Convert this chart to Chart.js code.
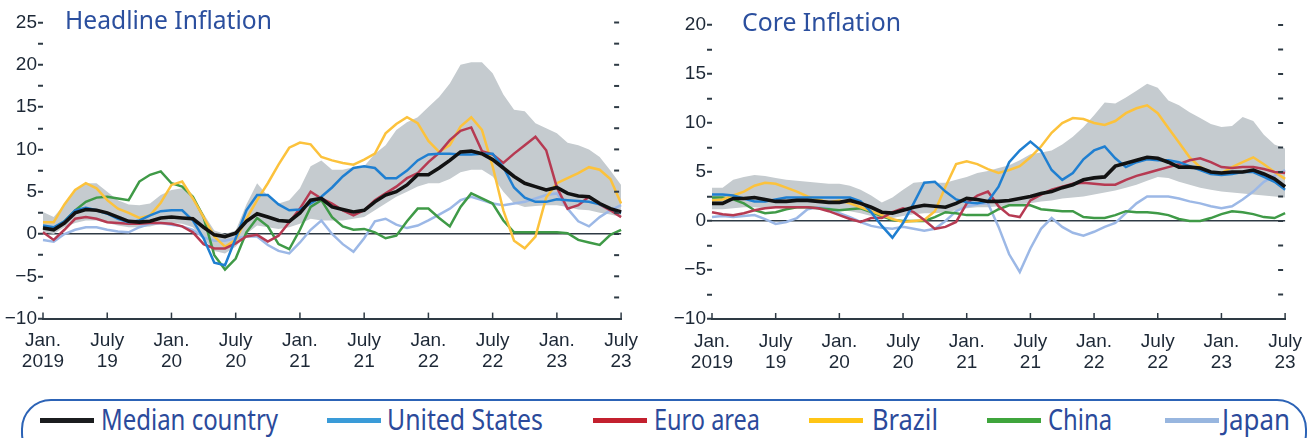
<!DOCTYPE html>
<html>
<head>
<meta charset="utf-8">
<script src="https://cdn.jsdelivr.net/npm/chart.js@4.4.0/dist/chart.umd.min.js"></script>
<style>
  body { margin: 0; width: 1314px; height: 438px; overflow: hidden; background: #fff; position: relative; font-family: "Noto Sans", sans-serif; }
  canvas { position: absolute; top: 0; }
  #left { left: 0; }
  #right { left: 660px; }
  .txt { position: absolute; white-space: nowrap; line-height: 1; transform-origin: left center; display: inline-block; }
  .title { color: #2b4f9e; }
  .leg { color: #2b4a9b; font-size: 29px; top: 404px; }
  .swatch { position: absolute; top: 418px; height: 5px; width: 54px; }
  #box { position: absolute; left: 21px; top: 399px; width: 1282px; height: 60px; border: 2px solid #2c63b6; border-radius: 30px; }
</style>
</head>
<body>
<canvas id="left" width="650" height="392"></canvas>
<canvas id="right" width="654" height="392"></canvas>
<div class="txt title" id="t1" style="left:65px; top:6px; font-size:26px;">Headline Inflation</div>
<div class="txt title" id="t2" style="left:742px; top:9px; font-size:25px;">Core Inflation</div>
<div id="box"></div>
<script>
// monthly, Jan 2019 to July 2023
const months = [];
for (let y = 2019; y <= 2023; y++) {
  for (let m = 1; m <= 12; m++) {
    if (y < 2023 || m <= 7) months.push(y + '-' + String(m).padStart(2, '0'));
  }
}
const tickLabels = [['Jan.', '2019'], ['July', '19'], ['Jan.', '20'], ['July', '20'], ['Jan.', '21'],
  ['July', '21'], ['Jan.', '22'], ['July', '22'], ['Jan.', '23'], ['July', '23']];
const seriesNames = ['Median country', 'United States', 'Euro area', 'Brazil', 'China', 'Japan'];
const lineColors = ['#121212', '#1f7fd1', '#b63a52', '#fcc23c', '#3f9a47', '#9cb8e6'];
const legendColors = ['#1b1d1f', '#3a9bd8', '#c3202e', '#ffc516', '#3fa53c', '#98b6df'];

// headline inflation
const hMedian = [0.7,0.5,1.3,2.5,2.9,2.8,2.5,2.0,1.5,1.4, 1.5,1.9,2.0,1.9,1.8,0.8,-0.1,-0.3,0.1,1.5, 2.4,2.0,1.6,1.5,2.5,4.0,4.2,3.2,2.9,2.6, 2.8,3.8,4.6,5.0,5.8,7.0,7.0,7.8,8.7,9.7, 9.8,9.5,8.8,7.8,6.8,6.0,5.6,5.2,5.5,4.8, 4.5,4.4,3.6,3.0,2.6];
const hUS = [1.0,0.8,1.5,2.8,3.1,2.8,2.4,1.8,1.4,1.6, 2.2,2.7,2.8,2.8,1.6,-0.5,-3.4,-3.7,-0.5,2.8, 4.6,4.6,3.5,2.8,2.9,3.6,4.4,5.5,6.8,7.8, 8.0,7.8,6.6,6.6,7.5,8.7,9.4,9.5,9.5,9.4, 9.4,9.5,9.5,7.9,5.5,4.3,3.8,3.8,4.1,4.0, 3.9,3.8,3.5,3.0,2.5];
const hEuro = [0.2,-0.7,0.5,1.8,2.0,1.8,1.4,1.3,1.2,1.2, 1.3,1.3,1.2,0.9,0.2,-1.2,-1.7,-1.7,-1.1,-0.3, -0.1,-0.9,-0.2,1.4,3.0,5.0,4.2,3.6,2.8,2.2, 2.8,4.0,4.8,5.6,6.6,7.2,8.5,9.6,11.1,12.2, 12.6,9.8,9.4,8.4,9.5,10.5,11.5,9.9,5.5,3.0, 3.4,4.4,3.5,2.8,2.0];
const hBrazil = [1.4,1.4,3.5,5.2,6.0,5.4,4.0,3.0,2.5,1.9, 2.2,3.7,5.8,6.2,4.2,2.0,-0.3,-1.5,-0.7,1.8, 4.0,6.0,8.2,10.2,10.8,10.6,9.1,8.7,8.4,8.2, 8.8,9.5,11.9,13.0,13.8,13.1,11.0,9.7,10.5,12.7, 13.8,12.3,8.0,2.8,-0.8,-1.7,-0.3,4.3,6.0,6.6, 7.2,7.9,7.6,6.5,3.6];
const hChina = [0.8,0.5,1.5,2.8,3.8,4.3,4.4,4.2,4.0,6.2, 7.0,7.4,6.0,5.6,4.4,2.0,-2.5,-4.2,-2.9,0.2, 1.9,0.9,-1.2,-1.8,0.5,3.2,4.0,2.0,0.9,0.5, 0.6,0.2,-0.5,-0.2,1.5,3.0,3.0,1.9,0.9,3.2, 4.8,4.2,3.6,1.6,0.2,0.2,0.2,0.2,0.2,0.1, -0.7,-1.0,-1.3,-0.1,0.5];
const hJapan = [-0.7,-0.9,0.0,0.5,0.8,0.8,0.5,0.3,0.2,0.8, 1.2,1.3,1.1,0.9,0.5,-0.4,-0.8,-0.8,-0.5,-0.3, -0.3,-1.3,-2.0,-2.3,-1.0,0.5,1.6,0.0,-1.2,-2.1, -0.5,1.5,1.8,1.1,0.7,1.0,1.6,2.3,3.0,4.0, 4.4,4.0,3.6,3.4,3.6,3.8,4.2,4.6,4.8,3.0, 1.5,0.9,2.0,2.8,3.4];
const hUpper = [2.6,2.0,3.5,5.2,6.0,6.0,5.0,4.0,3.5,3.4, 3.6,4.6,5.2,5.4,4.4,2.4,0.4,0.0,0.4,3.5, 6.0,4.5,3.6,4.0,5.4,8.0,8.7,7.6,7.6,7.9, 8.0,9.5,10.5,12.3,13.2,13.8,15.0,16.2,17.8,20.0, 20.3,20.3,19.0,16.5,14.7,14.5,13.1,12.5,11.9,10.8, 10.5,10.0,9.1,7.5,5.8];
const hLower = [0.2,0.0,0.8,1.3,1.6,1.6,1.3,1.0,0.8,0.8, 0.9,1.2,1.3,1.2,0.8,-0.5,-2.0,-2.3,-1.5,0.0, 1.0,0.8,0.6,0.8,1.2,1.8,1.6,1.6,1.6,1.8, 2.0,2.8,3.6,4.4,5.0,5.6,6.0,6.0,6.5,7.3, 7.6,7.6,6.8,5.0,3.6,3.2,3.3,3.4,3.4,3.2, 2.9,2.8,2.5,2.3,2.0];

// core inflation
const cMedian = [1.8,1.8,2.3,2.3,2.4,2.2,2.0,2.0,2.1,2.1, 2.0,1.9,1.9,2.1,1.8,1.4,0.9,0.8,1.1,1.4, 1.6,1.5,1.4,1.8,2.3,2.2,2.0,2.0,2.1,2.3, 2.5,2.8,3.0,3.4,3.7,4.2,4.4,4.5,5.6,5.9, 6.2,6.5,6.4,6.0,5.5,5.5,5.4,5.0,4.9,5.0, 5.0,5.2,4.8,4.3,3.5];
const cUS = [2.7,2.7,2.6,2.3,2.0,2.0,2.2,2.4,2.4,2.4, 2.4,2.4,2.4,2.4,2.0,0.9,-0.5,-1.7,-0.2,1.8, 3.9,4.0,3.0,2.2,1.9,1.8,2.0,3.5,6.0,7.2, 8.1,7.2,5.2,4.2,4.9,6.3,7.2,7.6,6.4,5.5, 6.0,6.3,6.2,6.2,6.0,5.6,5.2,4.8,4.7,4.8, 5.0,5.0,4.5,4.0,3.2];
const cEuro = [0.9,0.7,0.6,0.8,1.1,1.3,1.4,1.4,1.4,1.4, 1.3,1.0,0.6,0.2,-0.1,0.3,0.3,0.9,1.3,0.9, 0.1,-0.8,-0.6,-0.1,1.8,2.6,3.0,1.5,0.6,0.4, 2.1,2.7,3.2,3.5,3.8,3.9,3.8,3.7,3.7,4.2, 4.6,4.9,5.2,5.5,5.8,6.2,6.4,6.0,5.5,5.4, 5.5,5.5,5.3,5.0,4.9];
const cBrazil = [2.1,2.2,2.6,3.0,3.6,3.9,3.8,3.4,3.0,2.5, 2.2,1.9,2.1,1.8,1.4,1.0,0.6,0.2,-0.1,0.0, 0.1,1.0,3.5,5.8,6.1,5.8,5.3,4.9,5.2,5.6, 6.5,7.6,9.0,10.0,10.5,10.4,10.0,9.8,10.2,11.0, 11.5,11.8,11.0,9.5,8.0,6.5,5.5,5.0,4.9,5.5, 6.0,6.5,5.8,5.0,4.3];
const cChina = [2.4,2.4,2.2,1.8,1.1,0.8,0.9,1.2,1.4,1.4, 1.3,1.2,1.1,1.2,1.3,0.9,0.5,0.1,0.0,0.0, 0.0,0.4,0.9,0.8,0.6,0.6,0.6,1.2,1.6,1.6, 1.6,1.2,1.1,1.0,1.0,0.4,0.3,0.3,0.6,1.0, 0.9,0.9,0.8,0.6,0.2,0.0,0.0,0.3,0.7,1.0, 0.9,0.7,0.4,0.3,0.8];
const cJapan = [0.4,0.5,0.4,0.5,0.6,0.2,-0.3,-0.1,0.3,1.2, 1.4,1.3,0.8,0.4,-0.1,-0.5,-0.7,-0.8,-0.6,-0.8, -1.0,-0.8,0.0,1.0,1.5,1.7,1.8,-0.6,-3.4,-5.2, -2.8,-0.8,0.3,-0.6,-1.2,-1.5,-1.1,-0.6,-0.2,0.8, 1.8,2.5,2.5,2.5,2.3,2.0,1.8,1.5,1.3,1.5, 2.2,3.0,4.0,4.6,5.2];
const cUpper = [3.4,3.4,4.2,4.5,4.7,4.6,4.4,4.2,4.1,4.0, 3.9,3.8,3.8,3.6,3.2,2.6,1.9,2.4,3.2,3.9, 4.0,3.9,3.9,4.2,4.5,4.9,5.1,5.4,5.7,6.2, 6.8,7.0,7.2,7.8,8.6,9.6,10.8,12.1,12.0,12.6, 13.3,14.0,13.6,12.3,11.8,11.1,10.5,9.9,9.6,9.7, 10.6,10.2,8.8,7.8,7.4];
const cLower = [1.2,1.2,1.3,1.4,1.4,1.3,1.3,1.3,1.3,1.3, 1.2,1.2,1.1,1.0,0.8,0.5,0.2,0.3,0.5,0.7, 0.8,0.8,0.9,1.1,1.3,1.4,1.4,1.5,1.6,1.7, 1.8,2.0,2.1,2.3,2.4,2.5,2.7,2.9,3.1,3.4, 3.7,4.1,4.5,4.4,4.0,3.7,3.4,3.2,3.0,2.9, 2.8,2.7,2.6,2.5,2.4];

const ink = '#1d2836';
const axisInk = '#2e3a44';
const tickFont = { family: "'Liberation Sans Narrow', 'Liberation Sans', Arial, sans-serif", size: 19, lineHeight: 1.1 };

function fmt(v) {
  return v < 0 ? '\u2212' + Math.abs(v) : String(v);
}

// short upward ticks on the x axis and inner dashes on the right edge
const innerTicks = {
  id: 'innerTicks',
  afterDraw(chart) {
    const { ctx, chartArea: a, scales: { x, y } } = chart;
    ctx.save();
    ctx.strokeStyle = axisInk;
    ctx.lineWidth = 1.5;
    months.forEach((_, i) => {
      if (i % 6) return;
      const px = x.getPixelForValue(i);
      ctx.beginPath();
      ctx.moveTo(px, a.bottom);
      ctx.lineTo(px, a.bottom - 6);
      ctx.stroke();
    });
    ctx.lineWidth = 2;
    y.ticks.forEach(t => {
      if (t.value === y.min) return;
      const py = y.getPixelForValue(t.value);
      ctx.beginPath();
      ctx.moveTo(a.right - 7, py);
      ctx.lineTo(a.right - 2, py);
      ctx.stroke();
    });
    ctx.restore();
  }
};

function build(id, lines, upper, lower, yMax, box) {
  const datasets = lines.map((d, i) => ({
    label: seriesNames[i],
    data: d,
    borderColor: lineColors[i],
    borderWidth: i === 0 ? 3.6 : 2.5,
    pointRadius: 0,
    tension: 0,
    fill: false
  }));
  datasets.push({ label: 'range', data: upper, borderWidth: 0, pointRadius: 0, backgroundColor: '#c5cbcf', fill: '+1' });
  datasets.push({ label: 'range low', data: lower, borderWidth: 0, pointRadius: 0, fill: false });

  return new Chart(document.getElementById(id), {
    type: 'line',
    data: { labels: months, datasets: datasets },
    options: {
      responsive: false,
      animation: false,
      layout: { padding: { top: box.top, right: box.right, left: 0, bottom: 0 } },
      plugins: { legend: { display: false }, tooltip: { enabled: false } },
      scales: {
        x: {
          grid: { display: false, drawTicks: false },
          border: { display: true, color: axisInk, width: 2 },
          ticks: {
            autoSkip: false, maxRotation: 0, padding: 12, color: ink, font: tickFont,
            callback: (v, i) => (i % 6 ? null : tickLabels[i / 6])
          },
          afterFit: s => { s.height = box.xh; }
        },
        y: {
          min: -10,
          max: yMax,
          border: { display: false },
          grid: {
            color: c => (c.tick && c.tick.value === 0 ? axisInk : 'rgba(0,0,0,0)'),
            lineWidth: 1.5,
            tickColor: axisInk,
            tickLength: 5,
            tickWidth: 2
          },
          ticks: {
            stepSize: 2.5, autoSkip: false, padding: 1, color: ink, font: tickFont,
            callback: v => (v % 5 ? '' : fmt(v))
          },
          afterFit: s => { s.width = box.yw; }
        }
      }
    },
    plugins: [innerTicks]
  });
}

build('left', [hMedian, hUS, hEuro, hBrazil, hChina, hJapan], hUpper, hLower, 25,
  { top: 22.5, right: 25, yw: 43, xh: 73.4 });
build('right', [cMedian, cUS, cEuro, cBrazil, cChina, cJapan], cUpper, cLower, 20,
  { top: 25, right: 17, yw: 52, xh: 73 });

// legend spanning both panels
const legendSpots = [[40, 101, 177], [327, 387, 156], [593, 654, 106], [809, 872, 66], [987, 1048, 64], [1165, 1222, 68]];
function squeeze(el, w) {
  const r = el.getBoundingClientRect().width;
  el.style.transform = 'scaleX(' + (w / r) + ')';
}
seriesNames.forEach((name, i) => {
  const [lx, tx, tw] = legendSpots[i];
  const sw = document.createElement('div');
  sw.className = 'swatch';
  sw.style.left = lx + 'px';
  sw.style.background = legendColors[i];
  document.body.appendChild(sw);
  const t = document.createElement('div');
  t.className = 'txt leg';
  t.style.left = tx + 'px';
  t.textContent = name;
  document.body.appendChild(t);
  squeeze(t, tw);
});
squeeze(document.getElementById('t1'), 207);
squeeze(document.getElementById('t2'), 159);
</script>
</body>
</html>
